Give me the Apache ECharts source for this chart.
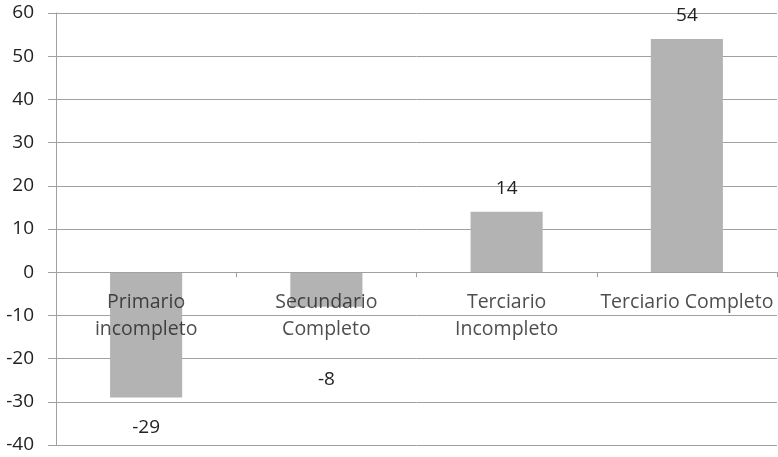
<!DOCTYPE html>
<html>
<head>
<meta charset="utf-8">
<script src="https://cdn.jsdelivr.net/npm/echarts@6/dist/echarts.min.js"></script>
<style>html,body{margin:0;padding:0;background:#fff}#c{width:778px;height:457px}</style>
</head>
<body>
<div id="c"></div>
<script>
var categories = ['Primario\nincompleto', 'Secundario\nCompleto', 'Terciario\nIncompleto', 'Terciario Completo'];
var values = [-29, -8, 14, 54];
var yTicks = {min: -40, max: 60, interval: 10};

var labelGap = [21, 63, 14, 14];
var chart = echarts.init(document.getElementById('c'));
var font = '"Open Sans", sans-serif';
var txt = '#222';
chart.setOption({
  animation: false,
  grid: {left: 56, right: 1, top: 13, bottom: 12, containLabel: false, outerBoundsMode: 'none'},
  xAxis: {
    type: 'category',
    data: categories,
    z: 5,
    axisLine: {onZero: true, lineStyle: {color: '#a0a0a0', width: 1}},
    axisTick: {show: true, length: 5, lineStyle: {color: '#a0a0a0'}},
    axisLabel: {show: false}
  },
  yAxis: {
    type: 'value',
    min: yTicks.min, max: yTicks.max, interval: yTicks.interval,
    axisLine: {show: true, lineStyle: {color: '#a0a0a0', width: 1}},
    axisTick: {show: true, length: 8, lineStyle: {color: '#a0a0a0'}},
    splitLine: {show: true, lineStyle: {color: '#a0a0a0', width: 1}},
    axisLabel: {color: txt, fontFamily: font, fontSize: 19, margin: 22}
  },
  series: [{
    type: 'bar',
    barCategoryGap: '60%',
    itemStyle: {color: '#b3b3b3'},
    data: values.map(function (v, i) {
      return {
        value: v,
        label: {show: true, position: v < 0 ? 'bottom' : 'top', distance: labelGap[i],
                color: txt, fontFamily: font, fontSize: 19}
      };
    })
  }, {
    type: 'scatter',
    z: 10,
    symbolSize: 0,
    silent: true,
    data: categories.map(function (c) { return 0; }),
    label: {show: true, position: 'bottom', distance: 17,
            formatter: function (p) { return p.name; },
            color: txt, fontFamily: font, fontSize: 19.5, lineHeight: 27, align: 'center'}
  }]
});
</script>
</body>
</html>
